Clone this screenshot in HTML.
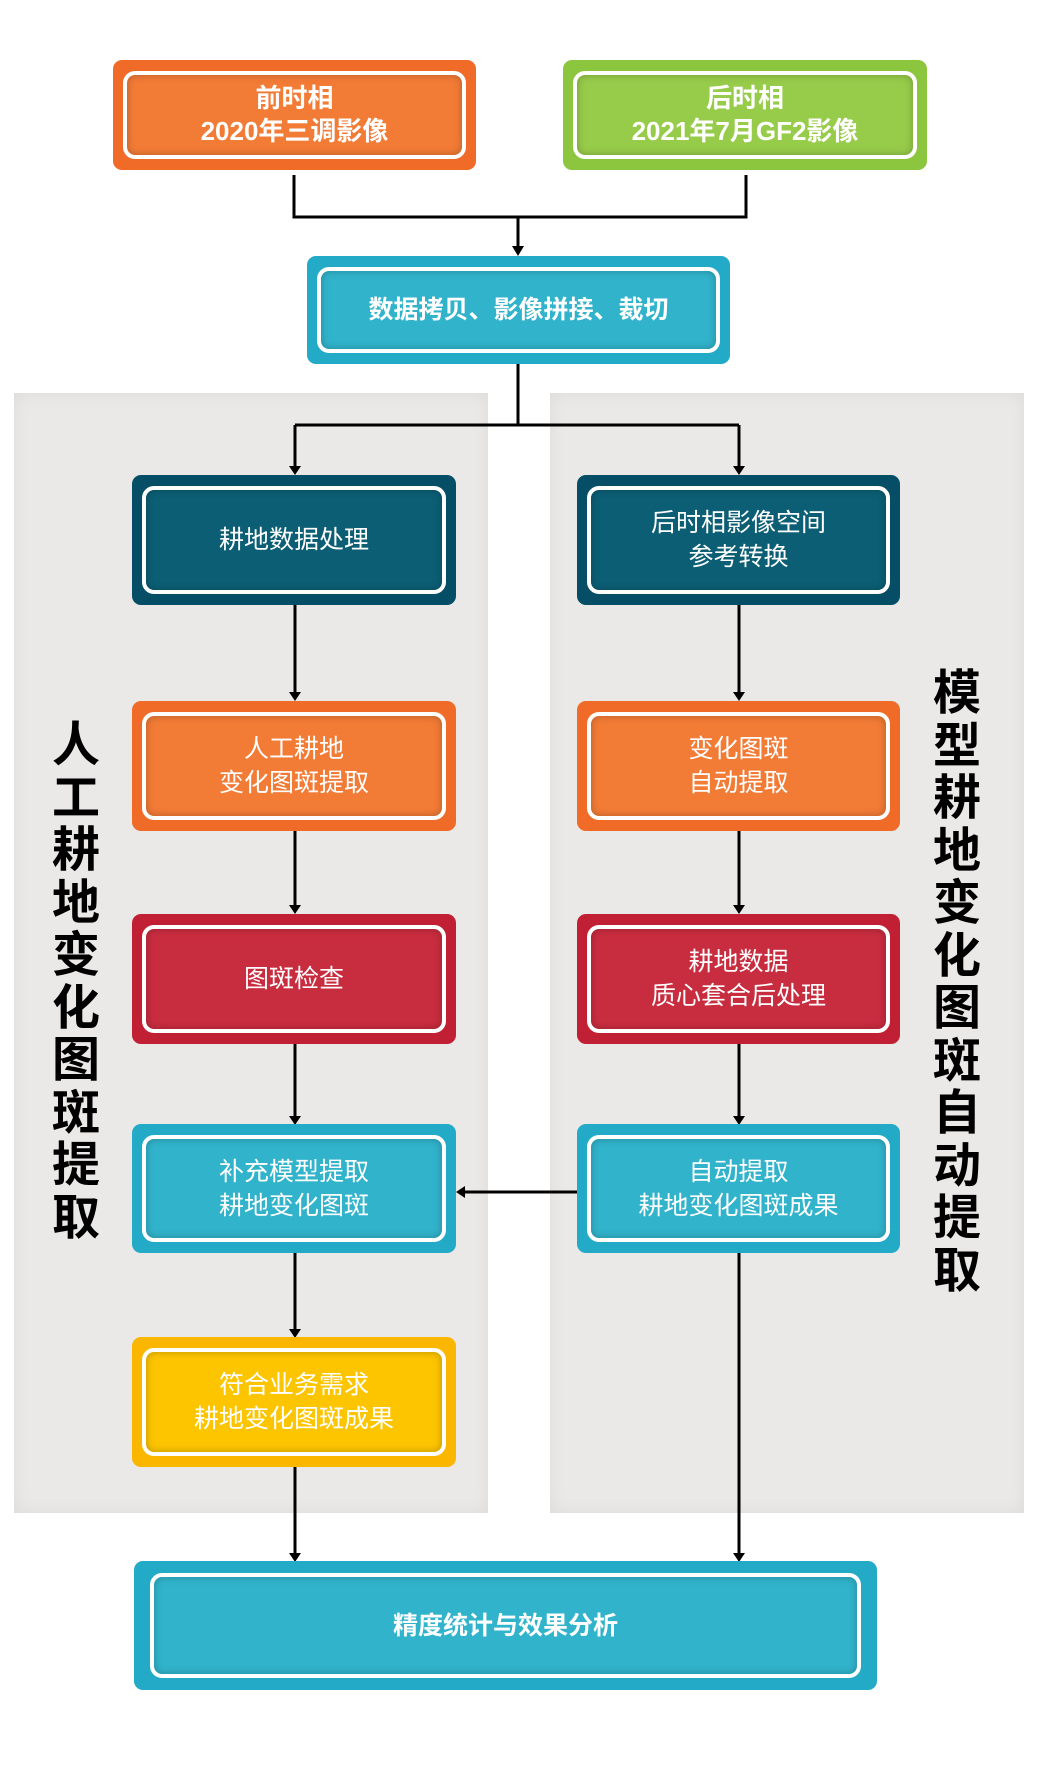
<!DOCTYPE html>
<html><head><meta charset="utf-8"><style>
body{margin:0;width:1040px;height:1771px;background:#fff;position:relative;overflow:hidden;font-family:"Liberation Sans","Noto Sans CJK SC",sans-serif}
.panel{position:absolute;background:#ebe9e7;box-shadow:inset 0 0 18px rgba(0,0,0,0.06)}
.b{position:absolute;border-radius:9px;box-sizing:border-box;padding:11px 10px}
.b>div{width:100%;height:100%;box-sizing:border-box;border:4px solid #fff;border-radius:12px;display:flex;align-items:center;justify-content:center;text-align:center;color:#fff;font-size:25px;line-height:34px;box-shadow:inset 0 0 8px rgba(0,0,0,0.25)}
.bold>div{font-weight:bold}
.v{position:absolute;font-weight:bold;font-size:48px;line-height:52.5px;width:52px;text-align:center;color:#000}
svg{position:absolute;left:0;top:0}
</style></head><body>
<div class="panel" style="left:14px;top:393px;width:474px;height:1120px"></div>
<div class="panel" style="left:550px;top:393px;width:474px;height:1120px"></div>
<svg width="1040" height="1771">
<g stroke="#000" stroke-width="3" fill="none">
<path d="M294 175V217H746V175"/><path d="M518 217V248"/>
<path d="M518 364V425"/><path d="M295 425H739"/>
<path d="M295 425V468"/><path d="M739 425V468"/>
<path d="M295 605V694"/><path d="M295 830V907"/><path d="M295 1043V1118"/><path d="M295 1253V1331"/><path d="M295 1467V1555"/>
<path d="M739 605V694"/><path d="M739 830V907"/><path d="M739 1043V1118"/><path d="M739 1253V1555"/>
<path d="M577 1192H463"/>
</g>
<g fill="#000">
<path d="M512 246L518 256L524 246Z"/>
<path d="M289 466L295 475L301 466Z"/><path d="M733 466L739 475L745 466Z"/>
<path d="M289 692L295 701L301 692Z"/><path d="M733 692L739 701L745 692Z"/>
<path d="M289 905L295 914L301 905Z"/><path d="M733 905L739 914L745 905Z"/>
<path d="M289 1116L295 1125L301 1116Z"/><path d="M733 1116L739 1125L745 1116Z"/>
<path d="M289 1329L295 1338L301 1329Z"/>
<path d="M289 1553L295 1562L301 1553Z"/><path d="M733 1553L739 1562L745 1553Z"/>
<path d="M465 1186L456 1192L465 1198Z"/>
</g>
</svg>
<div class="b bold" style="left:113px;top:60px;width:363px;height:110px;background:#f06a28"><div style="background:#f27b36;font-size:26px;line-height:33px">前时相<br>2020年三调影像</div></div>
<div class="b bold" style="left:563px;top:60px;width:364px;height:110px;background:#8cc63e"><div style="background:#97cb4a;font-size:26px;line-height:33px">后时相<br>2021年7月GF2影像</div></div>
<div class="b bold" style="left:307px;top:256px;width:423px;height:108px;background:#22aac6"><div style="background:#31b3cb">数据拷贝、影像拼接、裁切</div></div>
<div class="b" style="left:132px;top:475px;width:324px;height:130px;background:#064d66"><div style="background:#0b5e74">耕地数据处理</div></div>
<div class="b" style="left:577px;top:475px;width:323px;height:130px;background:#064d66"><div style="background:#0b5e74">后时相影像空间<br>参考转换</div></div>
<div class="b" style="left:132px;top:701px;width:324px;height:130px;background:#f06a28"><div style="background:#f27b36">人工耕地<br>变化图斑提取</div></div>
<div class="b" style="left:577px;top:701px;width:323px;height:130px;background:#f06a28"><div style="background:#f27b36">变化图斑<br>自动提取</div></div>
<div class="b" style="left:132px;top:914px;width:324px;height:130px;background:#c01f34"><div style="background:#c82c3f">图斑检查</div></div>
<div class="b" style="left:577px;top:914px;width:323px;height:130px;background:#c01f34"><div style="background:#c82c3f">耕地数据<br>质心套合后处理</div></div>
<div class="b" style="left:132px;top:1124px;width:324px;height:129px;background:#22aac6"><div style="background:#31b3cb">补充模型提取<br>耕地变化图斑</div></div>
<div class="b" style="left:577px;top:1124px;width:323px;height:129px;background:#22aac6"><div style="background:#31b3cb">自动提取<br>耕地变化图斑成果</div></div>
<div class="b" style="left:132px;top:1337px;width:324px;height:130px;background:#fbb700"><div style="background:#fdc400">符合业务需求<br>耕地变化图斑成果</div></div>
<div class="b bold" style="left:134px;top:1561px;width:743px;height:129px;background:#22aac6;padding:12px 16px"><div style="background:#31b3cb">精度统计与效果分析</div></div>
<div class="v" style="left:50px;top:720px">人<br>工<br>耕<br>地<br>变<br>化<br>图<br>斑<br>提<br>取</div>
<div class="v" style="left:931px;top:668px">模<br>型<br>耕<br>地<br>变<br>化<br>图<br>斑<br>自<br>动<br>提<br>取</div>
</body></html>
